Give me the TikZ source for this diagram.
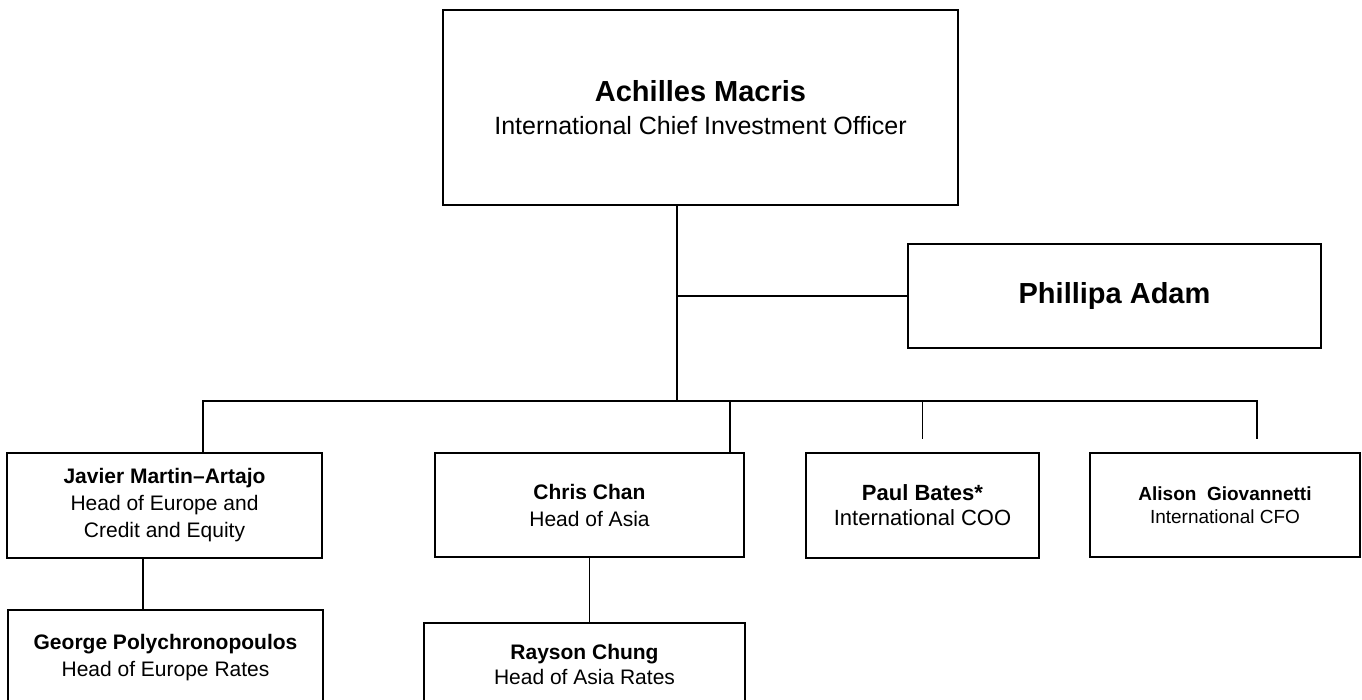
\documentclass[tikz,border=0pt]{standalone}
\usepackage{fontspec}
\setmainfont{Liberation Sans}
\usetikzlibrary{positioning}

\begin{document}
\begin{tikzpicture}[x=1pt,y=1pt,line width=1.8pt,
  person/.style={draw,rectangle,align=center,inner sep=0pt,font=\fontsize{21}{27}\selectfont},
  head person/.style={person,font=\fontsize{29}{33}\selectfont}]

  \useasboundingbox (0,0) rectangle (1362,-700);

  \node[head person,minimum width=515pt,minimum height=195pt] (am) at (700.5,-107.5)
    {\textbf{Achilles Macris}\\\fontsize{25}{33}\selectfont International Chief Investment Officer};
  \node[head person,minimum width=413pt,minimum height=104pt] (pa) at (1114.5,-296) {\textbf{Phillipa Adam}};

  \node[person,minimum width=315pt,minimum height=105pt] (jma) at (164.5,-505.5)
    {\textbf{Javier Martin–Artajo}\\Head of Europe and\\Credit and Equity};
  \node[person,minimum width=309pt,minimum height=104pt] (cc) at (589.5,-505) {\textbf{Chris Chan}\\Head of Asia};
  \node[person,minimum width=233pt,minimum height=105pt,font=\fontsize{22}{25}\selectfont] (pb) at (922.5,-505.5)
    {\textbf{Paul Bates*}\\International COO};
  \node[person,minimum width=270pt,minimum height=104pt,font=\fontsize{19}{23}\selectfont] (ag) at (1225,-505)
    {\textbf{Alison\ \ Giovannetti}\\International CFO};

  \node[person,minimum width=315pt,minimum height=95pt] (gp) at (165.5,-657.5)
    {\textbf{George Polychronopoulos}\\Head of Europe Rates};
  \node[person,minimum width=321pt,minimum height=83pt,font=\fontsize{21}{25}\selectfont] (rc) at (584.5,-664.5)
    {\textbf{Rayson Chung}\\Head of Asia Rates};

  \coordinate (trunk) at (677,-401);
  \coordinate (busL) at (203,-401);
  \coordinate (busR) at (1257,-401);
  \coordinate (asiaDrop) at (730,-401);
  \coordinate (euroLink) at (143,0);

  \draw (am.south -| trunk) -- (trunk);
  \draw (pa.west) -- (pa.west -| trunk);
  \draw (jma.north -| busL) -- (busL) -- (busR) -- ([yshift=13pt]ag.north -| busR);
  \draw (asiaDrop) -- (cc.north -| asiaDrop);
  \draw (pb.north |- trunk) -- ([yshift=13pt]pb.north);
  \draw (jma.south -| euroLink) -- (gp.north -| euroLink);
  \draw (cc.south) -- (cc.south |- rc.north);
\end{tikzpicture}
\end{document}
